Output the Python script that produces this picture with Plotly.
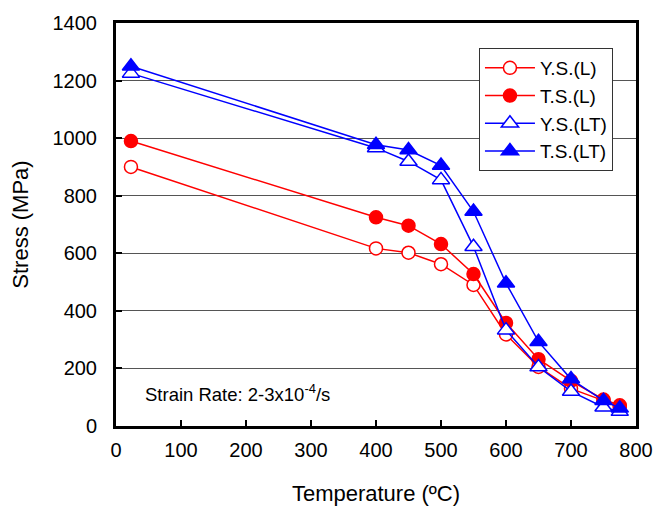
import plotly.graph_objects as go

# Test temperatures (ºC)
temperature = [23, 400, 450, 500, 550, 600, 650, 700, 750, 775]

# Yield and tensile strength (MPa), longitudinal (L) and long-transverse (LT)
ys_l = [900, 617, 602, 562, 490, 318, 205, 130, 88, 65]
ts_l = [990, 725, 696, 632, 528, 358, 232, 157, 92, 72]
ys_lt = [1225, 966, 919, 855, 623, 333, 205, 120, 65, 50]
ts_lt = [1250, 977, 959, 905, 745, 496, 293, 163, 88, 62]

series = [
    ("Y.S.(L)", ys_l, "red", "circle", "white", 13),
    ("T.S.(L)", ts_l, "red", "circle", "red", 13),
    ("Y.S.(LT)", ys_lt, "blue", "triangle-up", "white", 15),
    ("T.S.(LT)", ts_lt, "blue", "triangle-up", "blue", 15),
]

font_family = "Liberation Sans, Arial, sans-serif"

fig = go.Figure()
for name, vals, color, symbol, fill, size in series:
    fig.add_trace(go.Scatter(
        x=temperature, y=vals, name=name, mode="lines+markers",
        line=dict(color=color, width=1.5),
        marker=dict(symbol=symbol, size=size, color=fill,
                    line=dict(color=color, width=1.5)),
    ))

fig.add_annotation(
    x=41, y=114, xref="x", yref="y", xanchor="left", yanchor="middle",
    text="Strain Rate: 2-3x10<sup>-4</sup>/s", showarrow=False,
    font=dict(family=font_family, size=18.5, color="black"),
)

fig.update_layout(
    width=659, height=507,
    margin=dict(l=116, r=23, t=23, b=81),
    paper_bgcolor="white", plot_bgcolor="white",
    font=dict(family=font_family, color="black", size=20),
    showlegend=True,
    legend=dict(
        x=0.698, y=0.938, xanchor="left", yanchor="top",
        bgcolor="white", bordercolor="#333333", borderwidth=1,
        font=dict(size=19), tracegroupgap=0, itemwidth=50,
    ),
    xaxis=dict(
        range=[0, 800], dtick=100, tick0=0,
        showgrid=False, zeroline=False, automargin=False,
        showline=True, linewidth=3, linecolor="black", mirror=True,
        ticks="inside", ticklen=6, tickwidth=2, tickcolor="black",
        ticklabelstandoff=4,
        title=dict(text="Temperature (ºC)", standoff=26,
                   font=dict(size=22)),
    ),
    yaxis=dict(
        range=[0, 1400], dtick=200, tick0=0,
        showgrid=True, gridcolor="#555555", gridwidth=1, zeroline=False,
        automargin=False,
        showline=True, linewidth=3, linecolor="black", mirror=True,
        ticks="inside", ticklen=6, tickwidth=2, tickcolor="black",
        ticklabelstandoff=12,
        title=dict(text="Stress (MPa)", standoff=18,
                   font=dict(size=22)),
    ),
)

fig.write_html("out.html")
